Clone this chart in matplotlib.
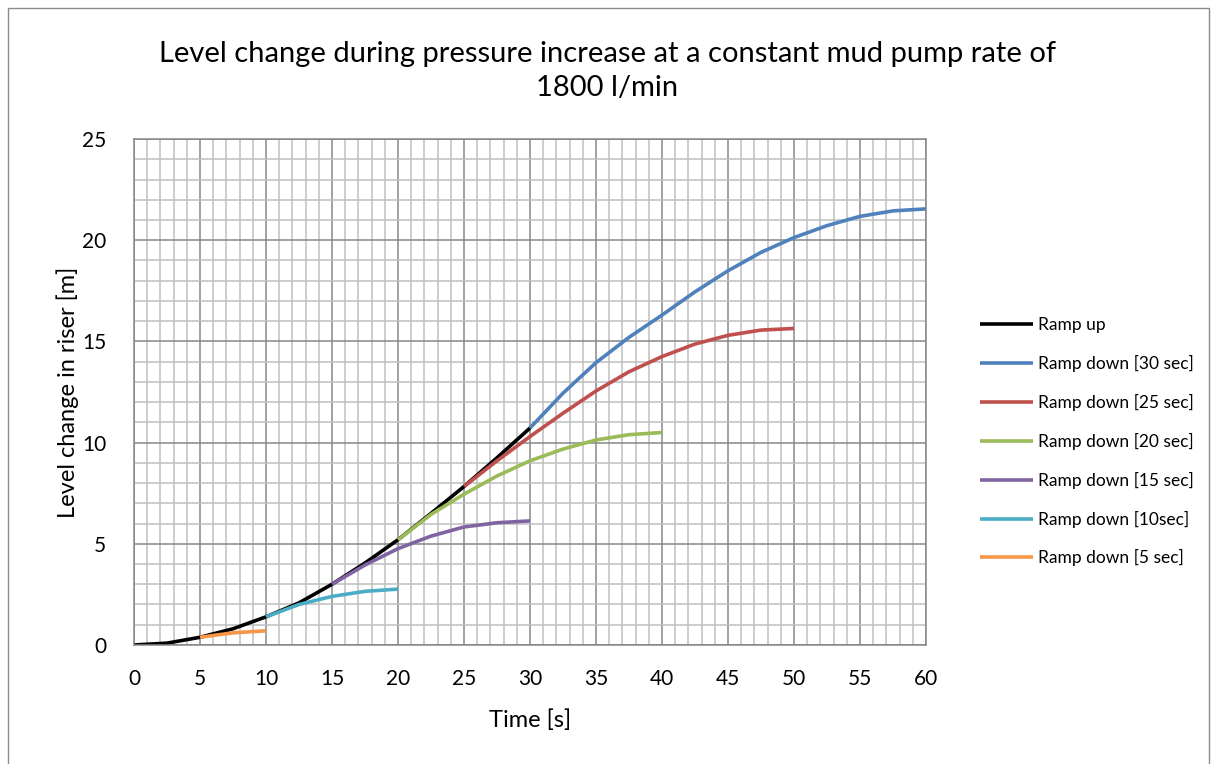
import matplotlib
matplotlib.use("Agg")
import matplotlib.pyplot as plt
from matplotlib.patches import Rectangle
from matplotlib.ticker import MultipleLocator

plt.rcParams['font.family'] = ['Lato', 'DejaVu Sans']

# values
t_up = [0, 2.5, 5, 7.5, 10, 12.5, 15, 17.5, 20, 22.5, 25, 27.5, 30]
lvl_up = [0, 0.09, 0.38, 0.8, 1.39, 2.08, 3.0, 4.05, 5.2, 6.5, 7.83, 9.25, 10.72]

t_30 = [30, 32.5, 35, 37.5, 40, 42.5, 45, 47.5, 50, 52.5, 55, 57.5, 60]
lvl_30 = [10.72, 12.44, 13.95, 15.2, 16.3, 17.45, 18.49, 19.4, 20.13, 20.72, 21.18, 21.45, 21.55]

t_25 = [25, 27.5, 30, 32.5, 35, 37.5, 40, 42.5, 45, 47.5, 50]
lvl_25 = [7.83, 9.1, 10.3, 11.45, 12.55, 13.5, 14.25, 14.87, 15.3, 15.56, 15.64]

t_20 = [20, 22.5, 25, 27.5, 30, 32.5, 35, 37.5, 40]
lvl_20 = [5.2, 6.45, 7.45, 8.35, 9.1, 9.68, 10.13, 10.39, 10.5]

t_15 = [15, 17.5, 20, 22.5, 25, 27.5, 30]
lvl_15 = [3.0, 3.95, 4.76, 5.38, 5.83, 6.04, 6.13]

t_10 = [10, 12.5, 15, 17.5, 20]
lvl_10 = [1.39, 2.0, 2.4, 2.65, 2.76]

t_5 = [5, 7.5, 10]
lvl_5 = [0.38, 0.6, 0.7]

series = [
    (t_up, lvl_up, 'Ramp up', 'black'),
    (t_30, lvl_30, 'Ramp down [30 sec]', '#4F81BD'),
    (t_25, lvl_25, 'Ramp down [25 sec]', '#C0504D'),
    (t_20, lvl_20, 'Ramp down [20 sec]', '#9BBB59'),
    (t_15, lvl_15, 'Ramp down [15 sec]', '#8064A2'),
    (t_10, lvl_10, 'Ramp down [10sec]', '#4BACC6'),
    (t_5, lvl_5, 'Ramp down [5 sec]', '#F79646'),
]

fig = plt.figure(figsize=(12.15, 7.64), dpi=100)
# outer chart border
fig.patches.append(Rectangle((0.0066, -0.01), 0.9885, 0.9995, transform=fig.transFigure,
                             fill=False, edgecolor='#8C8C8C', linewidth=1))
ax = fig.add_axes([0.1103, 0.1558, 0.6518, 0.6622])

for t, v, lab, col in series:
    ax.plot(t, v, color=col, linewidth=2.6, label=lab, solid_capstyle='butt')

ax.set_xlim(0, 60)
ax.set_ylim(0, 25)
ax.xaxis.set_major_locator(MultipleLocator(5))
ax.yaxis.set_major_locator(MultipleLocator(5))
ax.xaxis.set_minor_locator(MultipleLocator(1))
ax.yaxis.set_minor_locator(MultipleLocator(1))
ax.grid(which='minor', color='#BFBFBF', linewidth=1.1)
ax.grid(which='major', color='#878787', linewidth=1.1)
ax.set_axisbelow(True)
for s in ax.spines.values():
    s.set_color('#878787')
    s.set_linewidth(1.1)
ax.tick_params(which='both', length=0, labelsize=15)
ax.tick_params(axis='x', pad=17)
ax.tick_params(axis='y', pad=20)

ax.set_xlabel('Time [s]', fontsize=17, labelpad=15)
ax.set_ylabel('Level change in riser [m]', fontsize=17, labelpad=2)

fig.text(0.5, 0.907, 'Level change during pressure increase at a constant mud pump rate of\n1800 l/min',
         ha='center', va='center', fontsize=21, linespacing=1.42)

ax.legend(loc='upper left', bbox_to_anchor=(0.801, 0.594), bbox_transform=fig.transFigure,
          frameon=False, fontsize=12.5, handlelength=3.05, handletextpad=0.3,
          labelspacing=1.26, borderaxespad=0)

fig.savefig('out.png', dpi=100)
